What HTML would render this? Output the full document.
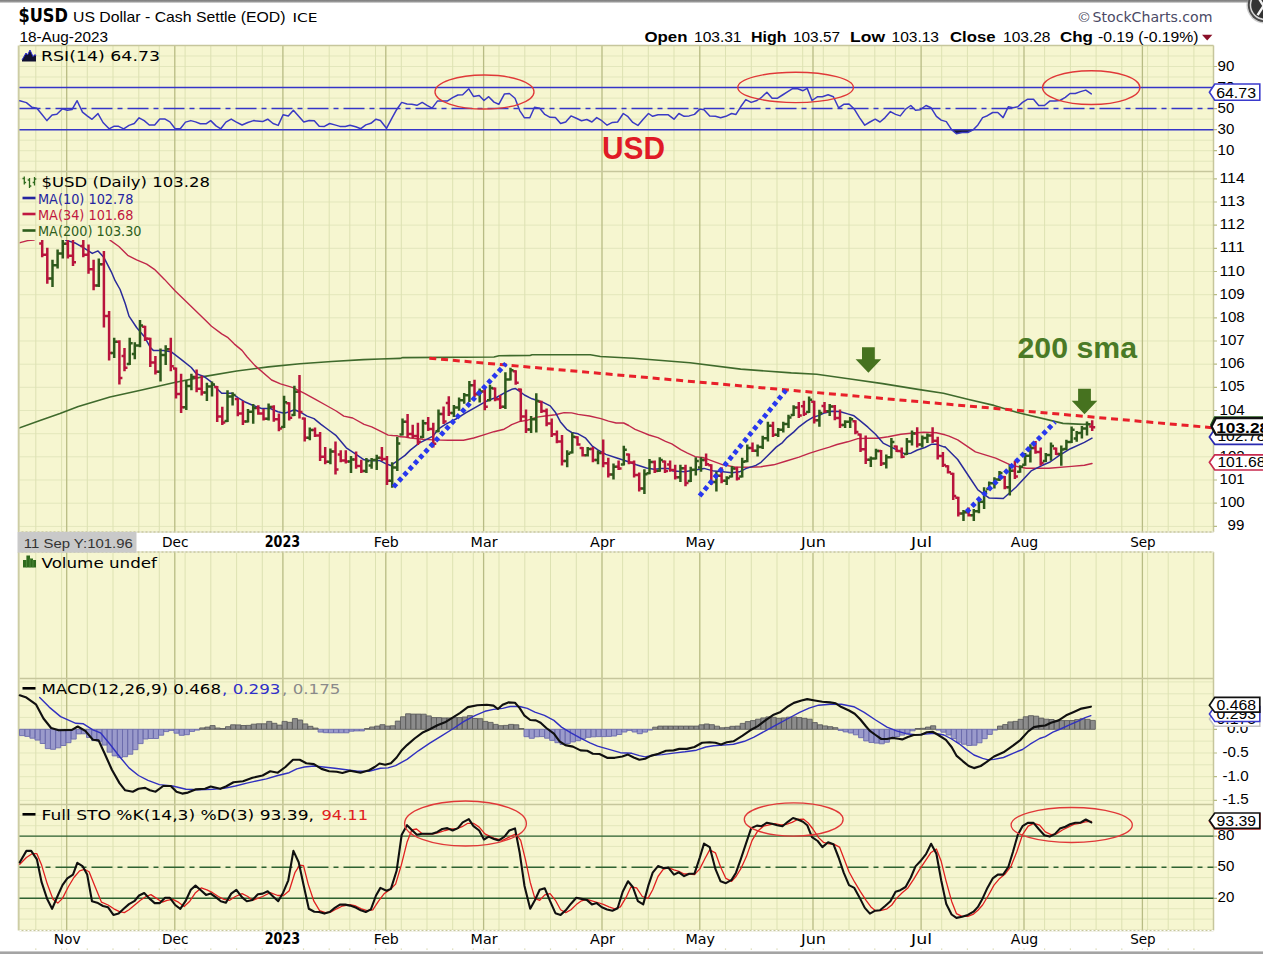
<!DOCTYPE html>
<html lang="en"><head><meta charset="utf-8"><title>$USD US Dollar - StockCharts.com</title>
<style>html,body{margin:0;padding:0;background:#fff;}body{width:1263px;height:954px;overflow:hidden;}svg{display:block;}</style></head>
<body>
<svg width="1263" height="954" viewBox="0 0 1263 954">
<defs><linearGradient id="tg" x1="0" y1="0" x2="0" y2="1"><stop offset="0" stop-color="#7a7a7a"/><stop offset="0.6" stop-color="#9a9a9a"/><stop offset="1" stop-color="#d8d8d8"/></linearGradient>
<clipPath id="cpP"><rect x="19.5" y="240" width="1194.0" height="292.0"/></clipPath>
</defs>
<rect width="1263" height="954" fill="#fff"/>
<rect width="1263" height="2.9" fill="url(#tg)"/>
<rect y="951.2" width="1263" height="2.8" fill="#bcbcbc"/><rect y="952.2" width="1263" height="1.6" fill="#9e9e9e"/>
<rect x="19.5" y="45.5" width="1194.0" height="126.0" fill="#f6f6d0"/>
<rect x="19.5" y="171.5" width="1194.0" height="360.5" fill="#f6f6d0"/>
<rect x="19.5" y="552.0" width="1194.0" height="126.5" fill="#f6f6d0"/>
<rect x="19.5" y="678.5" width="1194.0" height="126.0" fill="#f6f6d0"/>
<rect x="19.5" y="804.5" width="1194.0" height="126.0" fill="#f6f6d0"/>
<path d="M19.5 161.2H1213.5M19.5 150.7H1213.5M19.5 140.2H1213.5M19.5 129.7H1213.5M19.5 119.1H1213.5M19.5 108.6H1213.5M19.5 98.1H1213.5M19.5 87.5H1213.5M19.5 77H1213.5M19.5 66.5H1213.5M19.5 56H1213.5" stroke="#e3e7bc" stroke-width="1" fill="none"/>
<path d="M35.8 45.5V171.5M61.6 45.5V171.5M87.3 45.5V171.5M113 45.5V171.5M138.8 45.5V171.5M159.3 45.5V171.5M185.1 45.5V171.5M210.8 45.5V171.5M236.6 45.5V171.5M262.3 45.5V171.5M303.5 45.5V171.5M329.2 45.5V171.5M349.8 45.5V171.5M375.5 45.5V171.5M401.3 45.5V171.5M427 45.5V171.5M452.7 45.5V171.5M473.3 45.5V171.5M499 45.5V171.5M524.8 45.5V171.5M550.5 45.5V171.5M576.3 45.5V171.5M622.6 45.5V171.5M648.3 45.5V171.5M674 45.5V171.5M725.5 45.5V171.5M751.3 45.5V171.5M777 45.5V171.5M802.7 45.5V171.5M823.3 45.5V171.5M849 45.5V171.5M874.8 45.5V171.5M895.4 45.5V171.5M941.7 45.5V171.5M967.4 45.5V171.5M993.2 45.5V171.5M1018.9 45.5V171.5M1044.6 45.5V171.5M1070.4 45.5V171.5M1096.1 45.5V171.5M1121.8 45.5V171.5M1147.6 45.5V171.5M1168.2 45.5V171.5M1193.9 45.5V171.5" stroke="#dde2b2" stroke-width="1" fill="none"/>
<path d="M66.7 45.5V171.5M174.8 45.5V171.5M282.9 45.5V171.5M385.8 45.5V171.5M483.6 45.5V171.5M602 45.5V171.5M699.8 45.5V171.5M813 45.5V171.5M921.1 45.5V171.5M1024 45.5V171.5M1142.4 45.5V171.5" stroke="#b8bc84" stroke-width="1.3" fill="none"/>
<path d="M19.5 526.4H1213.5M19.5 503.2H1213.5M19.5 480H1213.5M19.5 456.8H1213.5M19.5 433.7H1213.5M19.5 410.5H1213.5M19.5 387.3H1213.5M19.5 364.2H1213.5M19.5 341H1213.5M19.5 317.8H1213.5M19.5 294.7H1213.5M19.5 271.5H1213.5M19.5 248.3H1213.5M19.5 225.1H1213.5M19.5 202H1213.5M19.5 178.8H1213.5" stroke="#e3e7bc" stroke-width="1" fill="none"/>
<path d="M35.8 171.5V532.0M61.6 171.5V532.0M87.3 171.5V532.0M113 171.5V532.0M138.8 171.5V532.0M159.3 171.5V532.0M185.1 171.5V532.0M210.8 171.5V532.0M236.6 171.5V532.0M262.3 171.5V532.0M303.5 171.5V532.0M329.2 171.5V532.0M349.8 171.5V532.0M375.5 171.5V532.0M401.3 171.5V532.0M427 171.5V532.0M452.7 171.5V532.0M473.3 171.5V532.0M499 171.5V532.0M524.8 171.5V532.0M550.5 171.5V532.0M576.3 171.5V532.0M622.6 171.5V532.0M648.3 171.5V532.0M674 171.5V532.0M725.5 171.5V532.0M751.3 171.5V532.0M777 171.5V532.0M802.7 171.5V532.0M823.3 171.5V532.0M849 171.5V532.0M874.8 171.5V532.0M895.4 171.5V532.0M941.7 171.5V532.0M967.4 171.5V532.0M993.2 171.5V532.0M1018.9 171.5V532.0M1044.6 171.5V532.0M1070.4 171.5V532.0M1096.1 171.5V532.0M1121.8 171.5V532.0M1147.6 171.5V532.0M1168.2 171.5V532.0M1193.9 171.5V532.0" stroke="#dde2b2" stroke-width="1" fill="none"/>
<path d="M66.7 171.5V532.0M174.8 171.5V532.0M282.9 171.5V532.0M385.8 171.5V532.0M483.6 171.5V532.0M602 171.5V532.0M699.8 171.5V532.0M813 171.5V532.0M921.1 171.5V532.0M1024 171.5V532.0M1142.4 171.5V532.0" stroke="#b8bc84" stroke-width="1.3" fill="none"/>
<path d="M35.8 552.0V678.5M61.6 552.0V678.5M87.3 552.0V678.5M113 552.0V678.5M138.8 552.0V678.5M159.3 552.0V678.5M185.1 552.0V678.5M210.8 552.0V678.5M236.6 552.0V678.5M262.3 552.0V678.5M303.5 552.0V678.5M329.2 552.0V678.5M349.8 552.0V678.5M375.5 552.0V678.5M401.3 552.0V678.5M427 552.0V678.5M452.7 552.0V678.5M473.3 552.0V678.5M499 552.0V678.5M524.8 552.0V678.5M550.5 552.0V678.5M576.3 552.0V678.5M622.6 552.0V678.5M648.3 552.0V678.5M674 552.0V678.5M725.5 552.0V678.5M751.3 552.0V678.5M777 552.0V678.5M802.7 552.0V678.5M823.3 552.0V678.5M849 552.0V678.5M874.8 552.0V678.5M895.4 552.0V678.5M941.7 552.0V678.5M967.4 552.0V678.5M993.2 552.0V678.5M1018.9 552.0V678.5M1044.6 552.0V678.5M1070.4 552.0V678.5M1096.1 552.0V678.5M1121.8 552.0V678.5M1147.6 552.0V678.5M1168.2 552.0V678.5M1193.9 552.0V678.5" stroke="#dde2b2" stroke-width="1" fill="none"/>
<path d="M66.7 552.0V678.5M174.8 552.0V678.5M282.9 552.0V678.5M385.8 552.0V678.5M483.6 552.0V678.5M602 552.0V678.5M699.8 552.0V678.5M813 552.0V678.5M921.1 552.0V678.5M1024 552.0V678.5M1142.4 552.0V678.5" stroke="#b8bc84" stroke-width="1.3" fill="none"/>
<path d="M19.5 800.4H1213.5M19.5 788.5H1213.5M19.5 776.7H1213.5M19.5 764.8H1213.5M19.5 753H1213.5M19.5 741.1H1213.5M19.5 729.3H1213.5M19.5 717.4H1213.5M19.5 705.6H1213.5M19.5 693.8H1213.5M19.5 681.9H1213.5" stroke="#e3e7bc" stroke-width="1" fill="none"/>
<path d="M35.8 678.5V804.5M61.6 678.5V804.5M87.3 678.5V804.5M113 678.5V804.5M138.8 678.5V804.5M159.3 678.5V804.5M185.1 678.5V804.5M210.8 678.5V804.5M236.6 678.5V804.5M262.3 678.5V804.5M303.5 678.5V804.5M329.2 678.5V804.5M349.8 678.5V804.5M375.5 678.5V804.5M401.3 678.5V804.5M427 678.5V804.5M452.7 678.5V804.5M473.3 678.5V804.5M499 678.5V804.5M524.8 678.5V804.5M550.5 678.5V804.5M576.3 678.5V804.5M622.6 678.5V804.5M648.3 678.5V804.5M674 678.5V804.5M725.5 678.5V804.5M751.3 678.5V804.5M777 678.5V804.5M802.7 678.5V804.5M823.3 678.5V804.5M849 678.5V804.5M874.8 678.5V804.5M895.4 678.5V804.5M941.7 678.5V804.5M967.4 678.5V804.5M993.2 678.5V804.5M1018.9 678.5V804.5M1044.6 678.5V804.5M1070.4 678.5V804.5M1096.1 678.5V804.5M1121.8 678.5V804.5M1147.6 678.5V804.5M1168.2 678.5V804.5M1193.9 678.5V804.5" stroke="#dde2b2" stroke-width="1" fill="none"/>
<path d="M66.7 678.5V804.5M174.8 678.5V804.5M282.9 678.5V804.5M385.8 678.5V804.5M483.6 678.5V804.5M602 678.5V804.5M699.8 678.5V804.5M813 678.5V804.5M921.1 678.5V804.5M1024 678.5V804.5M1142.4 678.5V804.5" stroke="#b8bc84" stroke-width="1.3" fill="none"/>
<path d="M19.5 919.1H1213.5M19.5 908.7H1213.5M19.5 898.3H1213.5M19.5 888H1213.5M19.5 877.6H1213.5M19.5 867.2H1213.5M19.5 856.8H1213.5M19.5 846.4H1213.5M19.5 836.1H1213.5M19.5 825.7H1213.5M19.5 815.3H1213.5" stroke="#e3e7bc" stroke-width="1" fill="none"/>
<path d="M35.8 804.5V930.5M61.6 804.5V930.5M87.3 804.5V930.5M113 804.5V930.5M138.8 804.5V930.5M159.3 804.5V930.5M185.1 804.5V930.5M210.8 804.5V930.5M236.6 804.5V930.5M262.3 804.5V930.5M303.5 804.5V930.5M329.2 804.5V930.5M349.8 804.5V930.5M375.5 804.5V930.5M401.3 804.5V930.5M427 804.5V930.5M452.7 804.5V930.5M473.3 804.5V930.5M499 804.5V930.5M524.8 804.5V930.5M550.5 804.5V930.5M576.3 804.5V930.5M622.6 804.5V930.5M648.3 804.5V930.5M674 804.5V930.5M725.5 804.5V930.5M751.3 804.5V930.5M777 804.5V930.5M802.7 804.5V930.5M823.3 804.5V930.5M849 804.5V930.5M874.8 804.5V930.5M895.4 804.5V930.5M941.7 804.5V930.5M967.4 804.5V930.5M993.2 804.5V930.5M1018.9 804.5V930.5M1044.6 804.5V930.5M1070.4 804.5V930.5M1096.1 804.5V930.5M1121.8 804.5V930.5M1147.6 804.5V930.5M1168.2 804.5V930.5M1193.9 804.5V930.5" stroke="#dde2b2" stroke-width="1" fill="none"/>
<path d="M66.7 804.5V930.5M174.8 804.5V930.5M282.9 804.5V930.5M385.8 804.5V930.5M483.6 804.5V930.5M602 804.5V930.5M699.8 804.5V930.5M813 804.5V930.5M921.1 804.5V930.5M1024 804.5V930.5M1142.4 804.5V930.5" stroke="#b8bc84" stroke-width="1.3" fill="none"/>
<path d="M19.5 45.5H1213.5M19.5 171.5H1213.5M19.5 532.0H1213.5M19.5 552.0H1213.5M19.5 678.5H1213.5M19.5 804.5H1213.5M19.5 930.5H1213.5M1213.5 45.5V532.0M1213.5 552.0V930.5" stroke="#c6c69c" stroke-width="1.5" fill="none"/>
<path d="M18.7 45.5V532.0M18.7 552.0V930.5" stroke="#cdcda4" stroke-width="2" fill="none"/>
<path d="M19.5 532.0H1213.5" stroke="#fff" stroke-width="1.2" stroke-dasharray="2 2" fill="none"/>
<path d="M19.5 552.0H1213.5" stroke="#fff" stroke-width="1.2" stroke-dasharray="2 2" fill="none"/>
<path d="M19.5 930.5H1213.5" stroke="#fff" stroke-width="1.2" stroke-dasharray="2 2" fill="none"/>
<path d="M19.5 950.5H1213.5" stroke="#fff" stroke-width="1.2" stroke-dasharray="2 2" fill="none"/>
<path d="M35.8 948.6v1.2M61.6 948.6v1.2M87.3 948.6v1.2M113 948.6v1.2M138.8 948.6v1.2M159.3 948.6v1.2M185.1 948.6v1.2M210.8 948.6v1.2M236.6 948.6v1.2M262.3 948.6v1.2M303.5 948.6v1.2M329.2 948.6v1.2M349.8 948.6v1.2M375.5 948.6v1.2M401.3 948.6v1.2M427 948.6v1.2M452.7 948.6v1.2M473.3 948.6v1.2M499 948.6v1.2M524.8 948.6v1.2M550.5 948.6v1.2M576.3 948.6v1.2M622.6 948.6v1.2M648.3 948.6v1.2M674 948.6v1.2M725.5 948.6v1.2M751.3 948.6v1.2M777 948.6v1.2M802.7 948.6v1.2M823.3 948.6v1.2M849 948.6v1.2M874.8 948.6v1.2M895.4 948.6v1.2M941.7 948.6v1.2M967.4 948.6v1.2M993.2 948.6v1.2M1018.9 948.6v1.2M1044.6 948.6v1.2M1070.4 948.6v1.2M1096.1 948.6v1.2M1121.8 948.6v1.2M1147.6 948.6v1.2M1168.2 948.6v1.2M1193.9 948.6v1.2M66.7 948.6v1.2M174.8 948.6v1.2M282.9 948.6v1.2M385.8 948.6v1.2M483.6 948.6v1.2M602 948.6v1.2M699.8 948.6v1.2M813 948.6v1.2M921.1 948.6v1.2M1024 948.6v1.2M1142.4 948.6v1.2" stroke="#d4d4a8" stroke-width="1.2" fill="none"/>
<text x="1217.5" y="70.5" font-family="Liberation Sans, Arial, sans-serif" font-size="14" fill="#000" textLength="16.8" lengthAdjust="spacingAndGlyphs">90</text>
<text x="1217.5" y="91.5" font-family="Liberation Sans, Arial, sans-serif" font-size="14" fill="#000" textLength="16.8" lengthAdjust="spacingAndGlyphs">70</text>
<text x="1217.5" y="112.6" font-family="Liberation Sans, Arial, sans-serif" font-size="14" fill="#000" textLength="16.8" lengthAdjust="spacingAndGlyphs">50</text>
<text x="1217.5" y="133.7" font-family="Liberation Sans, Arial, sans-serif" font-size="14" fill="#000" textLength="16.8" lengthAdjust="spacingAndGlyphs">30</text>
<text x="1217.5" y="154.7" font-family="Liberation Sans, Arial, sans-serif" font-size="14" fill="#000" textLength="16.8" lengthAdjust="spacingAndGlyphs">10</text>
<text x="1227.5" y="530.4" font-family="Liberation Sans, Arial, sans-serif" font-size="14" fill="#000" textLength="16.8" lengthAdjust="spacingAndGlyphs">99</text>
<text x="1219.5" y="507.2" font-family="Liberation Sans, Arial, sans-serif" font-size="14" fill="#000" textLength="25.2" lengthAdjust="spacingAndGlyphs">100</text>
<text x="1219.5" y="484" font-family="Liberation Sans, Arial, sans-serif" font-size="14" fill="#000" textLength="25.2" lengthAdjust="spacingAndGlyphs">101</text>
<text x="1219.5" y="460.8" font-family="Liberation Sans, Arial, sans-serif" font-size="14" fill="#000" textLength="25.2" lengthAdjust="spacingAndGlyphs">102</text>
<text x="1219.5" y="437.7" font-family="Liberation Sans, Arial, sans-serif" font-size="14" fill="#000" textLength="25.2" lengthAdjust="spacingAndGlyphs">103</text>
<text x="1219.5" y="414.5" font-family="Liberation Sans, Arial, sans-serif" font-size="14" fill="#000" textLength="25.2" lengthAdjust="spacingAndGlyphs">104</text>
<text x="1219.5" y="391.3" font-family="Liberation Sans, Arial, sans-serif" font-size="14" fill="#000" textLength="25.2" lengthAdjust="spacingAndGlyphs">105</text>
<text x="1219.5" y="368.2" font-family="Liberation Sans, Arial, sans-serif" font-size="14" fill="#000" textLength="25.2" lengthAdjust="spacingAndGlyphs">106</text>
<text x="1219.5" y="345" font-family="Liberation Sans, Arial, sans-serif" font-size="14" fill="#000" textLength="25.2" lengthAdjust="spacingAndGlyphs">107</text>
<text x="1219.5" y="321.8" font-family="Liberation Sans, Arial, sans-serif" font-size="14" fill="#000" textLength="25.2" lengthAdjust="spacingAndGlyphs">108</text>
<text x="1219.5" y="298.7" font-family="Liberation Sans, Arial, sans-serif" font-size="14" fill="#000" textLength="25.2" lengthAdjust="spacingAndGlyphs">109</text>
<text x="1219.5" y="275.5" font-family="Liberation Sans, Arial, sans-serif" font-size="14" fill="#000" textLength="25.2" lengthAdjust="spacingAndGlyphs">110</text>
<text x="1219.5" y="252.3" font-family="Liberation Sans, Arial, sans-serif" font-size="14" fill="#000" textLength="25.2" lengthAdjust="spacingAndGlyphs">111</text>
<text x="1219.5" y="229.1" font-family="Liberation Sans, Arial, sans-serif" font-size="14" fill="#000" textLength="25.2" lengthAdjust="spacingAndGlyphs">112</text>
<text x="1219.5" y="206" font-family="Liberation Sans, Arial, sans-serif" font-size="14" fill="#000" textLength="25.2" lengthAdjust="spacingAndGlyphs">113</text>
<text x="1219.5" y="182.8" font-family="Liberation Sans, Arial, sans-serif" font-size="14" fill="#000" textLength="25.2" lengthAdjust="spacingAndGlyphs">114</text>
<text x="1227" y="733.3" font-family="Liberation Sans, Arial, sans-serif" font-size="14" fill="#000" textLength="21.2" lengthAdjust="spacingAndGlyphs">0.0</text>
<text x="1222.5" y="757" font-family="Liberation Sans, Arial, sans-serif" font-size="14" fill="#000" textLength="26.1" lengthAdjust="spacingAndGlyphs">-0.5</text>
<text x="1222.5" y="780.7" font-family="Liberation Sans, Arial, sans-serif" font-size="14" fill="#000" textLength="26.1" lengthAdjust="spacingAndGlyphs">-1.0</text>
<text x="1222.5" y="804.4" font-family="Liberation Sans, Arial, sans-serif" font-size="14" fill="#000" textLength="26.1" lengthAdjust="spacingAndGlyphs">-1.5</text>
<text x="1217.5" y="840.1" font-family="Liberation Sans, Arial, sans-serif" font-size="14" fill="#000" textLength="16.8" lengthAdjust="spacingAndGlyphs">80</text>
<text x="1217.5" y="871.2" font-family="Liberation Sans, Arial, sans-serif" font-size="14" fill="#000" textLength="16.8" lengthAdjust="spacingAndGlyphs">50</text>
<text x="1217.5" y="902.3" font-family="Liberation Sans, Arial, sans-serif" font-size="14" fill="#000" textLength="16.8" lengthAdjust="spacingAndGlyphs">20</text>
<path d="M1213.5 66.5h3.5M1213.5 87.5h3.5M1213.5 108.6h3.5M1213.5 129.7h3.5M1213.5 150.7h3.5M1213.5 526.4h3.5M1213.5 503.2h3.5M1213.5 480h3.5M1213.5 456.8h3.5M1213.5 433.7h3.5M1213.5 410.5h3.5M1213.5 387.3h3.5M1213.5 364.2h3.5M1213.5 341h3.5M1213.5 317.8h3.5M1213.5 294.7h3.5M1213.5 271.5h3.5M1213.5 248.3h3.5M1213.5 225.1h3.5M1213.5 202h3.5M1213.5 178.8h3.5M1213.5 729.3h3.5M1213.5 753h3.5M1213.5 776.7h3.5M1213.5 800.4h3.5M1213.5 836.1h3.5M1213.5 867.2h3.5M1213.5 898.3h3.5" stroke="#b8bc84" stroke-width="1.2" fill="none"/>
<path d="M19.5 87.5H1213.5M19.5 129.7H1213.5" stroke="#3535c8" stroke-width="1.5" fill="none"/>
<path d="M19.5 108.6H1213.5" stroke="#3535c8" stroke-width="1.5" stroke-dasharray="21 5 5 5" fill="none"/>
<path d="M952 130.2L956.5 133.8L962 132.5L968 132.5L973.5 130.2Z" fill="#151540"/>
<path d="M19.8 100.7L26.4 102.6L32.1 107.3L36.9 108.3L41.6 114L46.9 120.6L52.1 114.9L56.8 114.3L62.5 108.8L67.3 110.2L72 109.6L77.1 100.7L82.5 112.1L87.2 115.9L92 119.3L98 113.6L103 122.5L109.1 128.8L113.8 126.3L118.6 126.3L123.7 128.8L129 125.4L134.3 123.5L139.1 117.8L144.2 120.6L149.3 125L154.7 125L159.8 119.1L165.1 119.1L169.9 121.9L175.2 128.8L180.3 128.8L185.5 122.1L190.8 120.6L195.5 121.9L200.3 123.8L206 123.8L210.7 120.6L216 125.9L220.8 128.8L225.9 122.1L231.2 119.1L236.4 122.1L242.1 125L247.8 122.5L253.5 120.6L262.6 121.6L267.7 119.2L273.1 123.5L278.2 125.4L283.1 114.8L288.3 115.9L293.4 110.2L298.7 116.3L303.8 122L309.2 120.5L314.3 120.7L319.2 126.2L324.4 126.4L329.7 123.5L334.8 124.9L339.9 126.4L345.3 126.4L350 125.2L355.7 126.8L360.8 128.7L365.8 124.9L370.9 123.3L376 119.2L380.4 120.5L386.5 128.3L391.4 119.2L396.6 109.7L401.7 102.4L407 104L411.8 104.3L416.9 105.3L422.2 102.4L427 105.3L432.1 108.1L437.4 101.1L442.2 101.1L447.3 101.1L452.6 97.7L457.9 95L462.7 94.8L468.8 88.8L473.5 96.4L479.2 95.4L484 100.5L488.7 96.7L494 102.1L498.8 104.3L504.5 93.9L509.3 93.5L515 98.3L519.7 110.6L524.5 117.8L529.8 117.8L534.5 107.2L539.7 108.3L544.8 114.4L550.1 117.3L555.4 117.6L560.6 123.5L565.7 122L571 115.9L576.3 118.2L581.5 120.7L586.8 119.5L591.9 122L596.7 117.6L601.8 120.7L607.1 125.2L612.4 122.4L617.6 122L623.3 113.5L628 116.7L632.8 122.4L637.9 125.4L643.2 119.2L648.5 113.5L652.7 116.3L658 114.8L663.2 114.8L668.3 114.8L674 119.2L678.9 113.5L684.1 116.3L689.2 115.9L694.5 114.4L699.8 109.1L704 109.7L709.7 115.9L715.4 116.3L720.6 117.8L725.9 116.3L731.6 113.5L736 114.4L740.7 106.8L745.8 99.6L751.2 102.4L756.9 100.5L761.6 97.3L766.9 92.2L772.1 98.3L777.2 98.3L782.5 95L787.8 91.6L793 88.4L797.7 88.8L803 90.7L807.2 88.4L812 100.5L817.7 96.7L822.4 96.7L828.1 94.8L833.4 96.7L838.6 107.8L843.7 104.3L849 104L854.3 109.1L859.5 117.6L864.8 125.2L869.9 122L875.2 119.2L880 122L885.1 117.6L890.4 111.6L895.6 114.4L900.3 115.9L905.6 109.1L910.8 105.5L915.5 110.2L920.3 109.7L926 105.5L931.1 107.8L936.4 116.3L941.2 120.1L946.3 121.6L951.6 129.6L956.4 133.8L962.1 132.5L967.8 132.5L973.5 129.6L977.9 124.9L982.6 117.6L987.4 115.7L992.7 112.5L997.8 112.5L1003.1 117.6L1008.3 106.8L1013 107.8L1017.8 106.8L1022.5 102.4L1027.8 99.2L1033.5 99.2L1038.7 105.5L1044.4 105.5L1049.7 101.1L1054.8 101.1L1059.9 100.5L1065.3 97.3L1070 93.5L1075.3 93.5L1080.5 91.6L1085.8 90.1L1091.3 93.9" stroke="#3a3ac4" stroke-width="1.5" fill="none" stroke-linejoin="round" stroke-linecap="round" />
<g clip-path="url(#cpP)">
<path d="M19 428L40 420.5L60 413.5L78.3 406.5L95 401.5L110 397L141.7 390L173.4 382.8L205 376.4L236.7 371L268.4 366.9L300 363.8L331.7 361.5L363.4 359.6L380 359L400 358.4L402.8 357.6L494 357L499 355.7L530 355.5L532 354.7L590.3 354.7L600.4 356.5L633.4 358.2L658.7 360.3L690 362.8L740.7 369.1L791.3 372.9L816.7 374.2L852.1 379.3L882.6 383.6L918 389.4L943.4 393.2L968.7 399.5L994 405.4L1017.4 412.5L1063 423.4L1083.2 424.4L1091 424" stroke="#3f6a2c" stroke-width="1.6" fill="none" stroke-linejoin="round" stroke-linecap="round" />
<path d="M110 240.1L118.9 246.5L127.7 255.3L136.6 259.8L146.7 264.2L154.4 269.3L164.5 279.4L175 290.8L205.2 320L211.5 326.3L221.7 333.9L228 337.7L234.4 344.1L242 350.4L247 356.7L255 365.6L271.6 380L280.5 383.8L293.1 387.6L304.5 393.3L315.9 399.6L327.3 406L336.2 411L343.8 416.1L352.7 418L364.1 424.3L371.7 426.9L379.3 430.7L388.2 435.1L392.6 435.5L397 435.7L400.2 436.8L405 437L410.3 438L423 439.3L433.1 439.9L448.3 440.2L463.5 440.2L473.7 438L483.8 434.9L493.9 431.7L504.1 429.2L511.7 424.7L519.3 421.6L526.9 420.3L537 417.1L545.1 416L555.3 414.8L564.1 412.6L571.7 412.9L578.1 414.4L589.5 416L600.9 418.6L608.5 421.1L616.1 423L623.7 423L628.7 425.5L635.1 429.3L641.4 431.9L649 435L657.9 437.6L665.5 441.4L671.8 443.9L680.7 449.6L687 452.8L695.1 456.6L704 457.8L714.1 461.6L723 464.8L735.7 467.1L748.3 467.3L761 466.7L773.7 464.8L786.3 461L799 457.2L809.1 453.4L819.3 450.2L829.4 447.1L837 444.5L847.7 441.8L857.8 438.6L867.9 438.3L878.1 438.3L888.2 436.7L900.9 434.2L911 433.2L923.7 432.3L936.3 432.7L945 434.8L949 436.1L957.7 439.8L975.4 451.9L995.7 458.2L1010.9 465.2L1026.1 468.3L1048.9 468.3L1071.7 466.4L1084.4 465.2L1092 463.5" stroke="#c0284a" stroke-width="1.4" fill="none" stroke-linejoin="round" stroke-linecap="round" />
<path d="M20.1 242.7L27.7 240.6L34 240.1" stroke="#c0284a" stroke-width="1.4" fill="none" stroke-linejoin="round" stroke-linecap="round" />
<path d="M65.7 240.1L75.8 243.3L83.4 247.7L92.3 253.4L98 250.9L103.7 257.2L111.3 271.8L115.1 280.7L120.1 289.5L125.2 303.5L129 316.1L136.6 327.5L144.2 336.4L150.6 347.8L153.3 350.4L163.4 350.4L171 351.7L181.1 359.3L191.3 367.5L196.3 373.8L203.9 376.4L211.5 382.1L216.6 388.4L221.7 393.2L231.8 393.2L238.2 397.9L244.5 401.7L252.6 405.3L261.5 408.5L270.3 408.5L277.9 411.7L284.3 413.2L289.3 411.7L294.4 409.8L300.7 412.3L307.1 416.1L314 418.6L321 424.3L328.6 430L336.2 435.7L342.5 443.3L346.3 447.8L353.9 452.8L364.1 459.8L371.7 460.8L379.3 460.4L385.6 463.6L390.7 465.5L397 461.1L405 455.4L410.3 450.1L419.2 443.1L428.1 438.7L433.1 436.1L438.2 429.2L445.8 424.1L455.9 419L466.1 412.7L473.7 408.3L483.8 402.6L488.9 400L496.5 397.5L505.3 392.4L511.7 389.3L515.5 388.6L519.3 391.2L524.4 395L532 398.8L539.6 401.3L542.6 402.1L550.2 405.9L555.3 412.2L560.3 421.7L566.7 429.3L571.7 432.5L578.1 433.8L585.7 438.2L592 445.8L598.3 450.2L605.9 454.4L616.1 457.8L626.2 461L636.3 464.8L646.5 468L654.1 469.2L661.7 468.4L668 468.4L673.1 471.1L684.5 471.8L695.1 470.1L704 468.4L714.1 471.1L723 471.8L731.9 472.7L739.5 471.8L745.8 468.6L755.9 465.4L761 462.3L768.6 454.7L776.2 447.1L782.5 442.6L786.3 438.2L793.9 431.9L799 426.8L806.6 421.1L812.9 417.3L819.3 415.4L824.4 412.9L832 411.3L839.6 411.6L841.3 412L847.7 413.9L854 415.8L860.3 420.9L867.9 427.2L875.5 434.2L883.1 443.1L890.7 446.9L898.3 450.7L904.7 453.8L911 453.2L917.3 450L924.9 447.5L931.3 444.3L936.3 444.3L943.9 446.9L945 446.8L957.7 459.5L970.3 478.5L977.9 489.9L989.3 498.1L1003.3 498.5L1015.9 487.3L1031.1 470.9L1041.3 465.8L1050.1 462L1059 455.7L1070.4 448.7L1084.4 442.4L1092 438.2" stroke="#2a2a9a" stroke-width="1.5" fill="none" stroke-linejoin="round" stroke-linecap="round" />
<path d="M42.2 240.1V257.2M39.2 243.6H42.2M42.2 254.7H45.2M47.3 247.7V283.8M44.3 254.7H47.3M47.3 278.4H50.3M67.9 240.1V258.5M64.9 243.8H67.9M67.9 255.7H70.9M73 240.1V266.1M70 255.7H73M73 262.2H76M83.3 240.1V257.2M80.3 246.1H83.3M83.3 254.7H86.3M88.5 244.6V273.7M85.5 254.7H88.5M88.5 269.3H91.5M93.6 259.8V290.2M90.6 269.3H93.6M93.6 285.6H96.6M103.9 250.9V327.5M100.9 264.2H103.9M103.9 316H106.9M109.1 311.1V360.5M106.1 316H109.1M109.1 353.1H112.1M119.4 340.3V384.6M116.4 341.8H119.4M119.4 378H122.4M124.5 347.9V371.3M121.5 356.1H124.5M124.5 367.8H127.5M145.1 325.7V340.9M142.1 326.7H145.1M145.1 338.6H148.1M150.3 337.7V366.9M147.3 338.7H150.3M150.3 362.5H153.3M155.4 356.1V374.5M152.4 362.5H155.4M155.4 371.7H158.4M170.8 337.7V371.3M167.8 349.3H170.8M170.8 366.3H173.8M176 367.5V398.5M173 368.5H176M176 393.9H179M181.1 373.8V413.1M178.1 393.9H181.1M181.1 407.2H184.1M196.6 369.4V392.2M193.6 377.1H196.6M196.6 388.8H199.6M201.7 375.7V395.4M198.7 388.8H201.7M201.7 392.4H204.7M217.2 385.9V422M214.2 386.9H217.2M217.2 416.6H220.2M222.3 406.8V425.1M219.3 416.6H222.3M222.3 422.4H225.3M237.8 397.9V416.3M234.8 398.9H237.8M237.8 413.5H240.8M242.9 401.1V425.1M239.9 413.5H242.9M242.9 421.5H245.9M258.3 405.3V414.8M255.3 408H258.3M258.3 413.4H261.3M263.5 409.1V420.5M260.5 413.4H263.5M263.5 418.8H266.5M273.8 405.3V421.8M270.8 406.9H273.8M273.8 419.3H276.8M278.9 413.6V431.3M275.9 419.3H278.9M278.9 428.6H281.9M289.2 402.2V420.5M286.2 403.2H289.2M289.2 417.8H292.2M299.5 374.9V418.6M296.5 391.8H299.5M299.5 412.1H302.5M304.7 417.4V441.4M301.7 418.4H304.7M304.7 437.8H307.7M315 427.5V437M312 430H315M315 435.6H318M320.1 431.9V461.1M317.1 435.6H320.1M320.1 456.7H323.1M325.2 447.1V464.2M322.2 456.7H325.2M325.2 461.7H328.2M335.5 441.4V474.4M332.5 451.6H335.5M335.5 469.4H338.5M340.7 450.3V462.3M337.7 454.5H340.7M340.7 460.5H343.7M345.8 450.3V463.6M342.8 460.5H345.8M345.8 461.6H348.8M356.1 451.6V468.7M353.1 459.4H356.1M356.1 466.1H359.1M361.3 459.8V473.1M358.3 466.1H361.3M361.3 471.1H364.3M381.9 447.1V461.1M378.9 457.8H381.9M381.9 459H384.9M387 456V485.1M384 459H387M387 480.8H390M407.6 414V437.4M404.6 421.8H407.6M407.6 433.9H410.6M412.7 424.7V438M409.7 433.9H412.7M412.7 436H415.7M417.9 422.8V445M414.9 436H417.9M417.9 441.7H420.9M428.2 417.1V431.1M425.2 423.3H428.2M428.2 429H431.2M433.3 422.8V447.5M430.3 429H433.3M433.3 443.8H436.3M443.6 406.4V424.1M440.6 414.1H443.6M443.6 421.4H446.6M448.8 396.2V415.9M445.8 403.1H448.8M448.8 412.9H451.8M474.5 379.8V396.9M471.5 385.2H474.5M474.5 394.3H477.5M484.8 388V410.2M481.8 391.4H484.8M484.8 406.8H487.8M495.1 387.4V401.3M492.1 388.4H495.1M495.1 399.2H498.1M500.2 395V408.9M497.2 399.2H500.2M500.2 406.8H503.2M515.7 370.3V384.8M512.7 371.3H515.7M515.7 382.7H518.7M520.8 388.6V421.6M517.8 389.6H520.8M520.8 416.6H523.8M526 409.5V433M523 416.6H526M526 429.5H529M541.4 400.8V412.9M538.4 401.8H541.4M541.4 411.1H544.4M546.6 408.4V426.2M543.6 411.1H546.6M546.6 423.5H549.6M551.7 418.6V436.9M548.7 423.5H551.7M551.7 434.2H554.7M556.9 430.6V443.3M553.9 434.2H556.9M556.9 441.4H559.9M562 435V465.4M559 441.4H562M562 460.9H565M577.5 436.3V445.8M574.5 437.3H577.5M577.5 444.4H580.5M582.6 447.1V456.6M579.6 448.1H582.6M582.6 455.2H585.6M592.9 447.1V462.3M589.9 449H592.9M592.9 460H595.9M603.2 439.5V467.3M600.2 453H603.2M603.2 463.2H606.2M608.3 457.8V477.5M605.3 463.2H608.3M608.3 474.5H611.3M618.6 460.4V469.9M615.6 466.7H618.6M618.6 468.5H621.6M628.9 453.4V464.2M625.9 454.4H628.9M628.9 462.6H631.9M634.1 460.4V477.5M631.1 462.6H634.1M634.1 474.9H637.1M639.2 472.4V491.4M636.2 474.9H639.2M639.2 488.6H642.2M654.7 460.4V473M651.7 462.1H654.7M654.7 471.1H657.7M665 460.4V473M662 461.4H665M665 471.1H668M670.1 460.4V471.8M667.1 464.4H670.1M670.1 470.1H673.1M675.2 464.8V479.4M672.2 470.1H675.2M675.2 477.2H678.2M685.5 464.8V486.3M682.5 468.2H685.5M685.5 483.1H688.5M706.1 453.4V466.1M703.1 460.1H706.1M706.1 464.2H709.1M711.3 464.2V485.1M708.3 465.2H711.3M711.3 481.9H714.3M721.6 467.3V483.2M718.6 475.7H721.6M721.6 480.8H724.6M737 466.7V480.6M734 468.4H737M737 478.6H740M752.5 442.6V452.1M749.5 448.1H752.5M752.5 450.7H755.5M773 421.7V436.9M770 425.7H773M773 434.7H776M798.8 402.1V417.9M795.8 407.4H798.8M798.8 415.6H801.8M803.9 400.8V416M800.9 406.2H803.9M803.9 413.8H806.9M814.2 400.8V423.6M811.2 401.8H814.2M814.2 420.2H817.2M824.5 402.1V412.9M821.5 405.9H824.5M824.5 411.3H827.5M834.8 405.1V420.3M831.8 406.4H834.8M834.8 418H837.8M840 409.5V427.9M837 418H840M840 425.1H843M855.4 420.3V434.2M852.4 421.3H855.4M855.4 432.1H858.4M860.5 433.6V451.9M857.5 434.6H860.5M860.5 449.2H863.5M865.7 435.5V464M862.7 449.2H865.7M865.7 459.7H868.7M881.1 450V465.9M878.1 451H881.1M881.1 463.5H884.1M896.6 445.6V451.9M893.6 446.6H896.6M896.6 451H899.6M901.7 447.5V458.3M898.7 451H901.7M901.7 456.7H904.7M917.2 427.2V447.5M914.2 433.4H917.2M917.2 444.5H920.2M932.6 427.2V443.1M929.6 435.5H932.6M932.6 440.7H935.6M937.7 436.7V459.5M934.7 440.7H937.7M937.7 456.1H940.7M942.9 451.9V467.1M939.9 456.1H942.9M942.9 464.9H945.9M948 465.2V473.4M945 466.2H948M948 472.2H951M953.2 472.8V500M950.2 473.8H953.2M953.2 495.9H956.2M958.3 496.8V516.5M955.3 497.8H958.3M958.3 513.5H961.3M968.6 507.6V516.5M965.6 512.3H968.6M968.6 515.2H971.6M1004.7 475.9V489.2M1001.7 476.9H1004.7M1004.7 487.2H1007.7M1014.9 460.7V479.1M1011.9 470.7H1014.9M1014.9 476.4H1017.9M1035.5 441.1V453.8M1032.5 447.9H1035.5M1035.5 451.9H1038.5M1040.7 447.4V465.8M1037.7 451.9H1040.7M1040.7 463.1H1043.7M1056.1 447.4V455M1053.1 448.4H1056.1M1056.1 453.9H1059.1M1092.2 420.2V431M1089.2 426.4H1092.2M1092.2 427.3H1095.2" stroke="#b8143c" stroke-width="2.5" fill="none"/>
<path d="M52.5 259.8V287M49.5 278.4H52.5M52.5 265.2H55.5M57.6 249.6V268.6M54.6 265.2H57.6M57.6 253.4H60.6M62.8 240.1V258.5M59.8 253.4H62.8M62.8 243.8H65.8M98.8 258.5V287M95.8 285.6H98.8M98.8 264.2H101.8M114.2 337.7V358M111.2 353.1H114.2M114.2 341.8H117.2M129.7 337.7V365M126.7 364H129.7M129.7 343.2H132.7M134.8 342.2V359.3M131.8 354.1H134.8M134.8 345.6H137.8M140 320V347.2M137 345.6H140M140 325.4H143M160.5 348.5V381.4M157.5 371.7H160.5M160.5 355.1H163.5M165.7 345.3V365M162.7 355.1H165.7M165.7 349.3H168.7M186.3 380.2V409.9M183.3 407.2H186.3M186.3 386.1H189.3M191.4 373.8V390.3M188.4 386.1H191.4M191.4 377.1H194.4M206.9 382.7V401.1M203.9 392.4H206.9M206.9 386.4H209.9M212 381.4V396.6M209 386.4H212M212 384.5H215M227.5 390.3V422M224.5 421H227.5M227.5 396.6H230.5M232.6 392.2V405.5M229.6 396.6H232.6M232.6 394.9H235.6M248 409.1V422.4M245 421.4H248M248 411.8H251M253.2 404.1V423.7M250.2 411.8H253.2M253.2 408H256.2M268.6 403.4V420.5M265.6 418.8H268.6M268.6 406.9H271.6M284.1 395.8V428.1M281.1 427.1H284.1M284.1 402.3H287.1M294.4 385.7V416.1M291.4 415.1H294.4M294.4 391.8H297.4M309.8 427.5V440.2M306.8 437.8H309.8M309.8 430H312.8M330.4 448.4V464.2M327.4 461.7H330.4M330.4 451.6H333.4M351 456V473.1M348 461.6H351M351 459.4H354M366.4 457.9V473.1M363.4 471.1H366.4M366.4 461H369.4M371.6 457.9V468.7M368.6 465.4H371.6M371.6 460.1H374.6M376.7 454.7V469.9M373.7 460.1H376.7M376.7 457.8H379.7M392.2 462.3V487.7M389.2 480.8H392.2M392.2 467.4H395.2M397.3 436.8V471M394.3 467.4H397.3M397.3 443.6H400.3M402.5 418.4V435.5M399.5 434.5H402.5M402.5 421.8H405.5M423 419.7V438M420 437H423M423 423.3H426M438.5 409.5V432.3M435.5 431.3H438.5M438.5 414.1H441.5M453.9 405.1V417.1M450.9 412.9H453.9M453.9 407.5H456.9M459.1 397.5V410.8M456.1 407.5H459.1M459.1 400.2H462.1M464.2 393.1V403.8M461.2 400.2H464.2M464.2 395.2H467.2M469.4 381V401.9M466.4 395.2H469.4M469.4 385.2H472.4M479.7 388.6V402.6M476.7 394.3H479.7M479.7 391.4H482.7M490 384.8V401.3M487 400.3H490M490 388.1H493M505.4 372.2V408.9M502.4 406.8H505.4M505.4 379.5H508.4M510.5 367.7V380.4M507.5 379.4H510.5M510.5 370.3H513.5M531.1 415.9V433M528.1 429.5H531.1M531.1 419.3H534.1M536.3 393.2V432.5M533.3 419.3H536.3M536.3 401.1H539.3M567.2 450.2V467.3M564.2 460.9H567.2M567.2 453.7H570.2M572.3 432.5V453.4M569.3 452.4H572.3M572.3 436.7H575.3M587.7 447.1V456.6M584.7 455.2H587.7M587.7 449H590.7M598 450.2V464.2M595 460H598M598 453H601M613.5 463.5V479.4M610.5 474.5H613.5M613.5 466.7H616.5M623.8 445.8V465.4M620.8 464.4H623.8M623.8 449.7H626.8M644.4 469.2V493.9M641.4 488.6H644.4M644.4 474.2H647.4M649.5 459.1V474.3M646.5 473.3H649.5M649.5 462.1H652.5M659.8 457.2V471.8M656.8 470.8H659.8M659.8 460.1H662.8M680.4 464.8V481.9M677.4 477.2H680.4M680.4 468.2H683.4M690.7 466.7V481.9M687.7 480.9H690.7M690.7 469.8H693.7M695.8 457.2V475.6M692.8 469.8H695.8M695.8 460.9H698.8M701 457.2V471.8M698 467.4H701M701 460.1H704M716.4 471.8V491.4M713.4 481.9H716.4M716.4 475.7H719.4M726.7 476.2V485.1M723.7 480.8H726.7M726.7 478H729.7M731.9 466.1V477.5M728.9 476.5H731.9M731.9 468.4H734.9M742.2 457.8V477.5M739.2 476.5H742.2M742.2 461.8H745.2M747.3 444.5V462.3M744.3 461.3H747.3M747.3 448.1H750.3M757.6 444.5V456.6M754.6 450.7H757.6M757.6 446.9H760.6M762.7 435.7V449M759.7 446.9H762.7M762.7 438.3H765.7M767.9 421.7V441.4M764.9 438.3H767.9M767.9 425.7H770.9M778.2 428.1V436.9M775.2 434.7H778.2M778.2 429.8H781.2M783.3 421.7V432.5M780.3 429.8H783.3M783.3 423.9H786.3M788.5 414.8V428.1M785.5 423.9H788.5M788.5 417.4H791.5M793.6 405.3V416M790.6 415H793.6M793.6 407.4H796.6M809.1 396.4V412.9M806.1 411.9H809.1M809.1 399.7H812.1M819.4 409.7V426.8M816.4 420.2H819.4M819.4 413.1H822.4M829.7 404V416M826.7 411.3H829.7M829.7 406.4H832.7M845.1 420.3V427.9M842.1 425.1H845.1M845.1 421.8H848.1M850.2 417.1V427.9M847.2 421.8H850.2M850.2 419.3H853.2M870.8 456.4V467.1M867.8 459.7H870.8M870.8 458.5H873.8M876 448.8V459.5M873 458.5H876M876 450.9H879M886.3 454.5V468.4M883.3 463.5H886.3M886.3 457.3H889.3M891.4 438V458.3M888.4 457.3H891.4M891.4 442.1H894.4M906.9 438V455.1M903.9 454.1H906.9M906.9 441.4H909.9M912 430.4V445.6M909 441.4H912M912 433.4H915M922.3 435.5V447.5M919.3 444.5H922.3M922.3 437.9H925.3M927.4 433.6V443.1M924.4 437.9H927.4M927.4 435.5H930.4M963.5 510.1V520.9M960.5 513.5H963.5M963.5 512.3H966.5M973.8 508.9V520.9M970.8 515.2H973.8M973.8 511.3H976.8M978.9 498.7V513.3M975.9 511.3H978.9M978.9 501.7H981.9M984.1 487.3V508.9M981.1 501.7H984.1M984.1 491.7H987.1M989.2 481.6V489.9M986.2 488.9H989.2M989.2 483.3H992.2M994.4 477.2V488.6M991.4 483.3H994.4M994.4 479.5H997.4M999.5 470.9V481M996.5 479.5H999.5M999.5 472.9H1002.5M1009.8 464.5V495.6M1006.8 487.2H1009.8M1009.8 470.7H1012.8M1020.1 465.2V472.8M1017.1 471.8H1020.1M1020.1 466.7H1023.1M1025.2 453.1V465.8M1022.2 464.8H1025.2M1025.2 455.7H1028.2M1030.4 444.3V462.6M1027.4 455.7H1030.4M1030.4 447.9H1033.4M1045.8 453.1V462M1042.8 461H1045.8M1045.8 454.9H1048.8M1051 442.4V460.7M1048 454.9H1051M1051 446H1054M1061.3 445.5V465.8M1058.3 453.9H1061.3M1061.3 449.6H1064.3M1066.4 439.8V450M1063.4 449H1066.4M1066.4 441.9H1069.4M1071.6 426.5V443M1068.6 441.9H1071.6M1071.6 429.8H1074.6M1076.7 431V441.7M1073.7 438.5H1076.7M1076.7 433.1H1079.7M1081.9 425.9V438.6M1078.9 433.1H1081.9M1081.9 428.4H1084.9M1087 421.5V435.4M1084 428.4H1087M1087 424.3H1090" stroke="#2e5a1c" stroke-width="2.5" fill="none"/>
</g>
<path d="M19.5 729.3V735.6h5.3V729.3ZM24.8 729.3V736.4h5.1V729.3ZM29.9 729.3V738.2h5.1V729.3ZM35 729.3V740.1h5.1V729.3ZM40.2 729.3V743.5h5.1V729.3ZM45.3 729.3V748.6h5.1V729.3ZM50.5 729.3V749.3h5.1V729.3ZM55.6 729.3V747.8h5.1V729.3ZM60.8 729.3V745.5h5.1V729.3ZM65.9 729.3V742.7h5.1V729.3ZM71.1 729.3V739.1h5.1V729.3ZM76.2 729.3V733.9h5.1V729.3ZM81.4 729.3V733.8h5.1V729.3ZM86.5 729.3V737.5h5.1V729.3ZM91.7 729.3V740.6h5.1V729.3ZM96.8 729.3V741.3h5.1V729.3ZM102 729.3V745.1h5.1V729.3ZM107.1 729.3V752.2h5.1V729.3ZM112.2 729.3V755.9h5.1V729.3ZM117.4 729.3V757.6h5.1V729.3ZM122.5 729.3V756.7h5.1V729.3ZM127.7 729.3V754.2h5.1V729.3ZM132.8 729.3V749.7h5.1V729.3ZM138 729.3V743.6h5.1V729.3ZM143.1 729.3V739h5.1V729.3ZM148.3 729.3V738.5h5.1V729.3ZM153.4 729.3V738.5h5.1V729.3ZM158.6 729.3V735.2h5.1V729.3ZM163.7 729.3V731.6h5.1V729.3ZM168.9 729.3V730.4h5.1V729.3ZM174 729.3V733.2h5.1V729.3ZM179.2 729.3V735.3h5.1V729.3ZM184.3 729.3V734.7h5.1V729.3ZM189.5 729.3V731.4h5.1V729.3ZM194.6 729.3V730.1h5.1V729.3ZM318.1 729.3V732.1h5.1V729.3ZM323.3 729.3V732.7h5.1V729.3ZM328.4 729.3V732.8h5.1V729.3ZM333.6 729.3V732.8h5.1V729.3ZM338.7 729.3V732.8h5.1V729.3ZM343.9 729.3V732.8h5.1V729.3ZM349 729.3V731.2h5.1V729.3ZM354.2 729.3V730.9h5.1V729.3ZM359.3 729.3V730.9h5.1V729.3ZM524 729.3V736.7h5.1V729.3ZM529.2 729.3V738.3h5.1V729.3ZM534.3 729.3V736.8h5.1V729.3ZM539.5 729.3V736.6h5.1V729.3ZM544.6 729.3V738.2h5.1V729.3ZM549.7 729.3V740.4h5.1V729.3ZM554.9 729.3V742.7h5.1V729.3ZM560 729.3V744.4h5.1V729.3ZM565.2 729.3V743.5h5.1V729.3ZM570.3 729.3V741.9h5.1V729.3ZM575.5 729.3V740.7h5.1V729.3ZM580.6 729.3V738.9h5.1V729.3ZM585.8 729.3V737.3h5.1V729.3ZM590.9 729.3V736.8h5.1V729.3ZM596.1 729.3V736.6h5.1V729.3ZM601.2 729.3V736.6h5.1V729.3ZM606.4 729.3V736.4h5.1V729.3ZM611.5 729.3V736h5.1V729.3ZM616.7 729.3V734.5h5.1V729.3ZM621.8 729.3V732h5.1V729.3ZM626.9 729.3V730.4h5.1V729.3ZM632.1 729.3V732h5.1V729.3ZM637.2 729.3V733.7h5.1V729.3ZM642.4 729.3V732.1h5.1V729.3ZM647.5 729.3V730.1h5.1V729.3ZM838 729.3V730.4h5.1V729.3ZM843.1 729.3V731.9h5.1V729.3ZM848.3 729.3V733h5.1V729.3ZM853.4 729.3V734.8h5.1V729.3ZM858.6 729.3V737.7h5.1V729.3ZM863.7 729.3V740.9h5.1V729.3ZM868.9 729.3V742.4h5.1V729.3ZM874 729.3V743.1h5.1V729.3ZM879.2 729.3V743.8h5.1V729.3ZM884.3 729.3V742.2h5.1V729.3ZM889.4 729.3V738.4h5.1V729.3ZM894.6 729.3V736.5h5.1V729.3ZM899.7 729.3V735.1h5.1V729.3ZM904.9 729.3V733.1h5.1V729.3ZM910 729.3V730.8h5.1V729.3ZM935.8 729.3V730.1h5.1V729.3ZM940.9 729.3V732.2h5.1V729.3ZM946.1 729.3V735h5.1V729.3ZM951.2 729.3V738.7h5.1V729.3ZM956.4 729.3V742.2h5.1V729.3ZM961.5 729.3V744.2h5.1V729.3ZM966.7 729.3V745.5h5.1V729.3ZM971.8 729.3V745.2h5.1V729.3ZM976.9 729.3V742.8h5.1V729.3ZM982.1 729.3V738.7h5.1V729.3ZM987.2 729.3V734.4h5.1V729.3ZM992.4 729.3V730.1h5.1V729.3Z" fill="#9a9acb" stroke="#6c6cad" stroke-width="0.9"/>
<path d="M199.7 729.3V727.9h5.1V729.3ZM204.9 729.3V727.1h5.1V729.3ZM210 729.3V725.6h5.1V729.3ZM215.2 729.3V728h5.1V729.3ZM220.3 729.3V728.5h5.1V729.3ZM225.5 729.3V726.7h5.1V729.3ZM230.6 729.3V724.8h5.1V729.3ZM235.8 729.3V724.9h5.1V729.3ZM240.9 729.3V725.5h5.1V729.3ZM246.1 729.3V725.4h5.1V729.3ZM251.2 729.3V724.2h5.1V729.3ZM256.4 729.3V723.8h5.1V729.3ZM261.5 729.3V723.8h5.1V729.3ZM266.7 729.3V721.4h5.1V729.3ZM271.8 729.3V723.3h5.1V729.3ZM277 729.3V725.1h5.1V729.3ZM282.1 729.3V721.4h5.1V729.3ZM287.2 729.3V722.3h5.1V729.3ZM292.4 729.3V718.6h5.1V729.3ZM297.5 729.3V720h5.1V729.3ZM302.7 729.3V723.9h5.1V729.3ZM307.8 729.3V726.3h5.1V729.3ZM313 729.3V728.1h5.1V729.3ZM364.5 729.3V728.5h5.1V729.3ZM369.6 729.3V727h5.1V729.3ZM374.7 729.3V726.1h5.1V729.3ZM379.9 729.3V724.7h5.1V729.3ZM385 729.3V726.1h5.1V729.3ZM390.2 729.3V725.8h5.1V729.3ZM395.3 729.3V721.1h5.1V729.3ZM400.5 729.3V716.8h5.1V729.3ZM405.6 729.3V713.8h5.1V729.3ZM410.8 729.3V714.1h5.1V729.3ZM415.9 729.3V714.1h5.1V729.3ZM421.1 729.3V714.2h5.1V729.3ZM426.2 729.3V715.9h5.1V729.3ZM431.4 729.3V717.6h5.1V729.3ZM436.5 729.3V717.6h5.1V729.3ZM441.7 729.3V717.9h5.1V729.3ZM446.8 729.3V717.9h5.1V729.3ZM452 729.3V717.6h5.1V729.3ZM457.1 729.3V717.5h5.1V729.3ZM462.2 729.3V717h5.1V729.3ZM467.4 729.3V715.6h5.1V729.3ZM472.5 729.3V718.5h5.1V729.3ZM477.7 729.3V718.7h5.1V729.3ZM482.8 729.3V721.4h5.1V729.3ZM488 729.3V722.4h5.1V729.3ZM493.1 729.3V724.4h5.1V729.3ZM498.3 729.3V725.7h5.1V729.3ZM503.4 729.3V725.4h5.1V729.3ZM508.6 729.3V724.4h5.1V729.3ZM513.7 729.3V724.8h5.1V729.3ZM518.9 729.3V728.5h5.1V729.3ZM652.7 729.3V727.2h5.1V729.3ZM657.8 729.3V726.1h5.1V729.3ZM663 729.3V726.1h5.1V729.3ZM668.1 729.3V726.1h5.1V729.3ZM673.3 729.3V726.1h5.1V729.3ZM678.4 729.3V726.1h5.1V729.3ZM683.6 729.3V726.1h5.1V729.3ZM688.7 729.3V726.1h5.1V729.3ZM693.9 729.3V726.1h5.1V729.3ZM699 729.3V724.8h5.1V729.3ZM704.2 729.3V724h5.1V729.3ZM709.3 729.3V724.7h5.1V729.3ZM714.4 729.3V726.2h5.1V729.3ZM719.6 729.3V727.8h5.1V729.3ZM724.7 729.3V727.4h5.1V729.3ZM729.9 729.3V726.3h5.1V729.3ZM735 729.3V726.1h5.1V729.3ZM740.2 729.3V723.4h5.1V729.3ZM745.3 729.3V721.6h5.1V729.3ZM750.5 729.3V720.6h5.1V729.3ZM755.6 729.3V719.2h5.1V729.3ZM760.8 729.3V717.9h5.1V729.3ZM765.9 729.3V716.9h5.1V729.3ZM771.1 729.3V717.3h5.1V729.3ZM776.2 729.3V718.3h5.1V729.3ZM781.4 729.3V717.9h5.1V729.3ZM786.5 729.3V717.2h5.1V729.3ZM791.7 729.3V717h5.1V729.3ZM796.8 729.3V717.5h5.1V729.3ZM801.9 729.3V718.3h5.1V729.3ZM807.1 729.3V719.2h5.1V729.3ZM812.2 729.3V722.6h5.1V729.3ZM817.4 729.3V724.8h5.1V729.3ZM822.5 729.3V725.9h5.1V729.3ZM827.7 729.3V726.7h5.1V729.3ZM832.8 729.3V727.7h5.1V729.3ZM915.2 729.3V728.5h5.1V729.3ZM920.3 729.3V728.3h5.1V729.3ZM925.5 729.3V727.1h5.1V729.3ZM930.6 729.3V725.8h5.1V729.3ZM997.5 729.3V726.1h5.1V729.3ZM1002.7 729.3V724.6h5.1V729.3ZM1007.8 729.3V721.9h5.1V729.3ZM1013 729.3V721.4h5.1V729.3ZM1018.1 729.3V719.3h5.1V729.3ZM1023.3 729.3V716.8h5.1V729.3ZM1028.4 729.3V715.7h5.1V729.3ZM1033.6 729.3V716.2h5.1V729.3ZM1038.7 729.3V718.1h5.1V729.3ZM1043.9 729.3V719.2h5.1V729.3ZM1049 729.3V719.5h5.1V729.3ZM1054.2 729.3V720.6h5.1V729.3ZM1059.3 729.3V720.6h5.1V729.3ZM1064.4 729.3V720.6h5.1V729.3ZM1069.6 729.3V720.5h5.1V729.3ZM1074.7 729.3V719.6h5.1V729.3ZM1079.9 729.3V718.7h5.1V729.3ZM1085 729.3V719.3h5.1V729.3ZM1090.2 729.3V720.4h5.1V729.3Z" fill="#8c8c8c" stroke="#5e5e5e" stroke-width="0.9"/>
<path d="M39.7 697.6L49.2 707.1L60.6 716.6L75.8 723.3L83.4 723.8L92.9 729.9L100.5 732.8L110 744.2L119.5 756.5L129 767.9L138.5 775.5L148 780.3L159.4 784.6L172.7 786L186 789.2L197.4 789.8L212.6 789.2L224 788.4L235.4 786L246.8 783.1L253.5 781.6L266.4 778.9L277.8 775.5L289.2 772.7L296.8 768.9L304.4 767L313.9 766L323.4 767L334.8 768.3L346.2 769.8L357.6 771.3L369 771.3L380.4 768.3L388 767.9L395.6 765.6L407 759.4L418.4 750.8L429.8 743.2L441.2 736.2L452.6 729L464 721.4L475.4 715.3L484.9 711.3L493.5 709.4L502.6 708.4L510.2 706.5L519.7 706.5L527.3 708.4L534.9 712.2L544.4 715.3L553.9 720.4L561.5 727.1L571 732.8L580.5 738.1L590 742.8L597.6 746.1L609 749.3L620.4 752.7L631.8 753.3L639.4 755.6L645.1 756.9L652.7 755.2L662.2 754.6L673.6 753.1L685 751.8L696.4 750.2L705.9 747L713.5 745.7L723 745.1L733.5 744.3L744.5 741.3L754 737.1L765.4 730.9L776.8 724.6L788.2 718.5L799.6 712.4L809.1 708.1L818.6 705.2L830 704.3L841.4 704.3L853.8 706.7L864.2 712.4L875.6 720L887 727.1L896.5 730.9L906 733.7L915.5 734.7L925 734.1L934.5 733.3L944 735L951.6 739L959.2 743.8L966.8 749.9L974 755L982.6 758.4L988.3 759.9L994 759.4L1003.5 757.5L1013 753.3L1022.5 749.5L1030.1 744.2L1039.6 738.5L1045.3 736.6L1052.9 732.2L1060.5 729L1070 724.6L1077.6 721.4L1085.2 717.6L1090.9 715.7" stroke="#3030c0" stroke-width="1.4" fill="none" stroke-linejoin="round" stroke-linecap="round" />
<path d="M19.8 695.3L26.4 697.6L35.9 704.3L43.5 718.5L51.1 728L58.7 730.3L72 729.9L77.7 726.5L85.3 730.9L92.9 739.8L98.6 740.4L104.3 752.7L111.9 769.8L119.5 783.1L125.2 790.3L132.8 791.7L138.5 788.8L145.2 787.9L149.9 790.3L155.6 791.7L163.2 786L170.8 786L176.5 791.7L182.2 793.6L187.9 792.6L195.5 789.4L205 788.8L210.7 786.5L220.2 788.8L225.9 786.5L233.5 782.2L243 781.2L252.5 777.8L262.6 775.5L270.2 771.3L277.8 772.7L285.4 767L293 759.7L299.7 759.7L306.3 763.2L313.9 764.1L321.5 768.9L329.1 771.3L336.7 771.7L342.4 773L350 770.8L360.5 772.7L369 770.2L374.7 767L379.5 763.5L385.2 764.7L390.9 763.2L396.6 757.5L401.3 750.8L407 745.1L414.6 738.5L422.2 732.8L429.8 729.3L437.4 725.2L445 722.3L452.6 717.6L460.2 712.8L467.8 707.1L477.3 705.2L486.8 704.8L493.5 705.6L497.9 709L502.6 704.8L508.3 702.4L515 702.7L519.7 708.1L524.5 715.7L530.2 720L535.9 720.4L540.6 722.7L546.3 728L553.9 733.7L559.6 741.3L565.3 745.1L572.9 746.6L580.5 750.4L587.2 750.8L592.9 753.7L599.5 754L607.1 757.8L614.7 757.8L622.3 756.5L628 754.6L633.7 757.5L639.4 759.7L645.1 758.8L650.8 755.9L658.4 753.7L666 750.8L673.6 750.4L679.3 748.9L686.9 748.9L694.5 747L702.1 742.8L709.7 742.3L715.4 742.8L721.1 744.5L726.8 742.3L733.5 741.3L742.6 735.6L750.2 730.3L757.8 726.1L765.4 720.4L773 715.1L780.6 711.9L788.2 706.2L793.9 702.9L801.5 700.5L807.2 699.1L814.8 700.5L822.4 701.8L830 702.4L835.7 703.3L841.4 707.1L849 710.5L854.7 713.8L860.4 719.5L866.1 726.5L869.9 730.9L875.6 735L881.3 739L887 739L892.7 737.9L898.4 738.8L902.2 739.4L907.9 737.1L913.6 735L921.2 734.7L926.9 732.2L932.6 731.8L938.3 735L945.9 739.8L951.6 747L956.4 755.6L963 761.3L968.7 766L974 768.1L980.7 766L986.4 762.2L994 756.5L1003.5 752.3L1013 745.7L1020.6 739.8L1028.2 731.4L1033.9 727.1L1039.6 726.1L1045.3 725.5L1051 722.7L1058.6 720.4L1066.2 715.3L1073.8 711.9L1081.4 708.6L1090.9 706.7" stroke="#101010" stroke-width="2.15" fill="none" stroke-linejoin="round" stroke-linecap="round" />
<path d="M19.5 836.1H1213.5M19.5 898.3H1213.5" stroke="#2f6232" stroke-width="1.4" fill="none"/>
<path d="M19.5 867.2H1213.5" stroke="#2f6232" stroke-width="1.4" stroke-dasharray="21 5 5 5" fill="none"/>
<path d="M19.8 864.2L26.4 857.5L32.1 853.7L36.9 853.7L41.6 865.1L47.3 884.1L53 899.3L57.8 903.1L62.5 898.4L68.2 887L73.9 877.5L79.6 870.8L84.4 869.3L89.1 871.8L94.8 886L101.5 902.2L108.1 905L113.8 908.8L119.5 911.7L124.3 912.6L129 909.8L134.7 905L140.4 900.3L146.1 896.5L150.9 894.6L156.6 898.4L162.3 902.2L167 900.3L172.7 899.3L178.4 902.2L184.1 906.5L189.8 901.2L195.5 892.7L201.2 887.9L206.9 889.8L212.6 892.7L218.3 896.5L224 899.3L229.7 900.3L235.4 896.5L242.1 893.6L247.8 896.5L252.5 900.3L262.6 896.5L270.2 892.7L277.8 895.5L283.5 895.5L289.2 890.8L294.9 872.7L299.7 865.1L303.5 865.7L308.2 884.1L313.9 901.2L319.6 910.7L325.3 912.6L331 912L336.7 908.8L342.4 906L350 904.6L355.7 906L361.4 908.8L367.1 910.7L372.8 909.8L378.5 901.2L384.2 893.6L389.9 889.8L395.6 884.1L401.3 865.1L407 842.3L411.8 830L416.5 829L422.2 833.8L427.9 834.1L433.6 833.8L439.3 832.4L445 830.5L450.7 829L456.4 829L462.1 826.7L467.8 823.3L473.5 823.3L479.2 827.1L484.9 833.8L490.6 836.6L494 838.1L502.6 840.4L510.2 836.6L515.9 833.8L520.7 840.4L525.4 859.4L530.2 882.2L534.9 898.4L539.7 900.3L544.8 894.9L550.1 893.6L555.4 900.3L560.6 909.8L565.7 912.6L571 909.8L576.3 904.6L581.5 900.8L586.8 899.3L591.9 900.8L597.6 902.5L603.3 904.4L609 906.9L614.7 908.8L620.4 906.9L626.1 897.4L630.9 887L636.6 887.9L642.3 896.5L648 898.4L652.7 889.8L658 876.5L663.2 869.3L668.3 867.6L674 869.9L678.9 871.4L684.1 874L689.2 874L694.5 874.6L699.8 868.9L705 858.5L709.7 849.9L715.4 852.8L720.6 867L725.9 878.4L731.6 881.3L736 876.5L740.7 868.9L746.4 856.6L752.1 840.4L757.8 830.9L763.5 826.2L769.2 824.8L774.9 823.7L780.6 824.8L786.3 824.3L792 822.4L797.7 819.5L803.4 819.1L808.2 822.9L812.9 829L818.6 837.6L823.4 842.3L829.1 843.8L833.8 844.2L839.5 847.1L844.3 859.4L849 871.8L854.7 882.2L860.4 891.7L866.1 900.3L870.9 906.9L875.6 910.7L881.3 910.3L887 908.8L891.8 905L896.5 898.4L902.2 892.7L907.9 887.9L913.6 879.4L919.3 869.9L925 861.3L930.7 852.8L936.4 849L941.2 861.3L945.9 880.3L951.6 901.2L956.4 913.6L962.1 916.4L967.8 916.4L973.5 914.1L977.9 910.3L982.6 905L988.3 895.5L994 885.1L999.7 878.4L1005.4 873.7L1011.1 866.1L1016.8 851.8L1022.5 834.7L1028.2 826.2L1033.9 823.3L1039.6 825.2L1045.3 831.9L1051 834.7L1056.7 833.8L1062.4 830L1068.1 827.1L1073.8 824.3L1079.5 823.3L1085.2 821.8L1091.3 821.4" stroke="#e02020" stroke-width="1.3" fill="none" stroke-linejoin="round" stroke-linecap="round" />
<path d="M19.8 862.3L26.4 850.9L31.2 850.9L36.9 859.4L41.6 882.2L47.3 899.3L52.1 908.8L57.8 895.5L62.5 885.1L67.3 878.4L73 874.6L77.3 862.8L82.5 866.1L87.2 874.6L92 901.2L98 903.1L103 906L108.1 907.3L113.4 914.9L118.6 913.6L123.7 908.8L129 904.1L134.3 901.2L139.1 895.5L144.2 893L149.3 898.4L154.7 903.1L159.8 903.1L165.1 897.8L169.9 897.8L175.2 905L180.3 908.8L185.5 901.2L190.8 889.8L195.5 885.6L200.3 889.8L206 894.9L210.7 893.6L216 897.4L220.8 901.2L225.9 902.7L231.2 893.6L236.4 889.8L242.1 897.4L246.8 901.2L252.5 899.9L257.9 894.2L262.6 893.6L267.7 891.3L273.1 896.5L278.2 901.2L283.1 892.7L288.3 880.3L293.4 850.9L298.7 862.3L303.8 886L308.8 908.8L314.3 911.7L319.2 912L324.4 913.6L329.7 912L334.8 907.9L339.9 904.6L345.3 904.6L350 905.6L355.7 907.5L360.8 910.3L365.8 912L370.9 909.4L376 895.5L380.4 887.9L386.5 890.8L390.9 888.9L396.6 870.8L401.7 834.7L407 825.2L411.8 830L416.9 834.7L422.2 833.8L427 833.8L432.1 833.8L437.4 831.9L442.2 829L447.3 828.1L452.6 830.5L457.9 828.1L462.7 822.4L468.8 819.1L473.5 826.2L479.2 830.5L484 839.5L488.7 836.6L494 839.1L498.8 840.4L504.5 836.6L509.3 830.5L515 828.4L519.7 852.8L524.5 886L530.2 908.8L534.9 900.3L539.7 889.8L544.8 888.3L550.1 901.2L555.4 913.2L560.6 914.9L565.7 910.3L571 903.7L576.3 897.8L581.5 898.9L586.8 899.9L591.9 904.4L596.7 903.1L601.8 907.3L607.1 909.4L612.4 910.7L617.6 908.2L622.7 891.7L628 881.3L632.8 887L637.9 901.2L643.2 904.4L648.5 885.1L652.7 872.7L658 866.1L663.2 868L668.3 867.6L674 874.6L678.9 872.3L684.1 876.1L689.2 873.7L694.5 873.7L699.8 857.5L704 843.6L709.7 847.1L715.4 868.9L720.6 881.3L725.9 883.2L731.6 879.9L736 872.7L740.7 859.4L745.8 844.2L751.2 828.1L756.9 825.6L761.6 826.2L766.9 822.7L772.1 823.7L777.2 825.2L782.5 826.2L787.8 821.8L793 818L797.7 819.5L803 821.8L807.2 825.2L812 837.2L817.7 841L822.4 847.1L828.1 842.3L833.4 844.2L838.6 857.5L843.7 872.7L849 885.1L854.3 887.9L859.5 897.4L864.8 907.9L869.9 913.6L875.2 910.7L880 910.3L885.1 906L890.4 901.2L895.6 891.7L900.3 890.2L905.6 887L910.8 877.5L915.5 866.4L920.3 861.3L926 854.1L931.1 843.8L936.4 853.7L941.2 880.3L946.3 904.1L951.6 914.5L956.4 917.9L962.1 916.8L967.8 914.9L973.5 911.7L977.9 906.9L982.6 898.4L987.4 887.9L992.7 878.4L997.8 874.6L1003.1 874.6L1008.3 867L1013 851.8L1017.8 834.7L1022.5 826.2L1027.8 822.9L1033.5 822.9L1038.7 829L1044.4 835.3L1049.7 836.6L1054.8 834.1L1059.9 828.6L1065.3 826.7L1070 824.3L1075.3 822.7L1080.5 822.7L1085.8 819.5L1091.3 822.4" stroke="#101010" stroke-width="2.1" fill="none" stroke-linejoin="round" stroke-linecap="round" />
<ellipse cx="484.5" cy="92" rx="49.5" ry="17" fill="none" stroke="#e03838" stroke-width="1.35"/>
<ellipse cx="795.6" cy="87.4" rx="57.8" ry="15.2" fill="none" stroke="#e03838" stroke-width="1.35"/>
<ellipse cx="1091.2" cy="87.6" rx="48.7" ry="16.9" fill="none" stroke="#e03838" stroke-width="1.35"/>
<ellipse cx="465.5" cy="823.5" rx="60.9" ry="22.5" fill="none" stroke="#e03838" stroke-width="1.35"/>
<ellipse cx="793.7" cy="819.5" rx="49.4" ry="16.6" fill="none" stroke="#e03838" stroke-width="1.35"/>
<ellipse cx="1071.7" cy="825" rx="60.6" ry="17.5" fill="none" stroke="#e03838" stroke-width="1.35"/>
<path d="M429.3 358.2L1212.4 427.7" stroke="#e8202a" stroke-width="3" stroke-dasharray="7 4.8" fill="none"/>
<path d="M393.5 487L506 363.5" stroke="#2838ee" stroke-width="4.8" stroke-dasharray="4.4 3.4" fill="none"/>
<path d="M699.6 496L786 390.2" stroke="#2838ee" stroke-width="4.8" stroke-dasharray="4.4 3.4" fill="none"/>
<path d="M966.5 512L1055 422" stroke="#2838ee" stroke-width="4.8" stroke-dasharray="4.4 3.4" fill="none"/>
<path d="M868.4 372.7l-12.8 -13.4h6.4v-12h12.8v12h6.4z" fill="#46721f"/>
<path d="M1084.5 414.2l-12.8 -13.4h6.4v-12h12.8v12h6.4z" fill="#46721f"/>
<text x="1017.5" y="358" font-family="Liberation Sans, Arial, sans-serif" font-size="30" fill="#4a7a26" font-weight="bold" textLength="119.5" lengthAdjust="spacingAndGlyphs" >200 sma</text>
<text x="602" y="158.8" font-family="Liberation Sans, Arial, sans-serif" font-size="31" fill="#e01a26" font-weight="bold" textLength="63" lengthAdjust="spacingAndGlyphs" >USD</text>
<text x="18.4" y="22.2" font-family="DejaVu Sans Condensed, DejaVu Sans, Tahoma, sans-serif" font-size="19.4" fill="#000" font-weight="bold" textLength="49.5" lengthAdjust="spacingAndGlyphs" >$USD</text>
<text x="73" y="22.2" font-family="Liberation Sans, Arial, sans-serif" font-size="14.6" fill="#000" textLength="212.5" lengthAdjust="spacingAndGlyphs" >US Dollar - Cash Settle (EOD)</text>
<text x="292.5" y="22.2" font-family="DejaVu Sans, Verdana, sans-serif" font-size="11.5" fill="#000" textLength="25" lengthAdjust="spacingAndGlyphs" >ICE</text>
<text x="19.5" y="41.6" font-family="Liberation Sans, Arial, sans-serif" font-size="14" fill="#000" textLength="88.5" lengthAdjust="spacingAndGlyphs" >18-Aug-2023</text>
<text x="644.5" y="41.8" font-family="Liberation Sans, Arial, sans-serif" font-size="14.2" fill="#000" font-weight="bold" textLength="43" lengthAdjust="spacingAndGlyphs" >Open</text>
<text x="694" y="41.8" font-family="Liberation Sans, Arial, sans-serif" font-size="14.2" fill="#000" textLength="47.5" lengthAdjust="spacingAndGlyphs" >103.31</text>
<text x="751" y="41.8" font-family="Liberation Sans, Arial, sans-serif" font-size="14.2" fill="#000" font-weight="bold" textLength="35.5" lengthAdjust="spacingAndGlyphs" >High</text>
<text x="793" y="41.8" font-family="Liberation Sans, Arial, sans-serif" font-size="14.2" fill="#000" textLength="47" lengthAdjust="spacingAndGlyphs" >103.57</text>
<text x="850" y="41.8" font-family="Liberation Sans, Arial, sans-serif" font-size="14.2" fill="#000" font-weight="bold" textLength="35" lengthAdjust="spacingAndGlyphs" >Low</text>
<text x="891.5" y="41.8" font-family="Liberation Sans, Arial, sans-serif" font-size="14.2" fill="#000" textLength="47.5" lengthAdjust="spacingAndGlyphs" >103.13</text>
<text x="950" y="41.8" font-family="Liberation Sans, Arial, sans-serif" font-size="14.2" fill="#000" font-weight="bold" textLength="45.5" lengthAdjust="spacingAndGlyphs" >Close</text>
<text x="1003" y="41.8" font-family="Liberation Sans, Arial, sans-serif" font-size="14.2" fill="#000" textLength="47.5" lengthAdjust="spacingAndGlyphs" >103.28</text>
<text x="1060" y="41.8" font-family="Liberation Sans, Arial, sans-serif" font-size="14.2" fill="#000" font-weight="bold" textLength="33" lengthAdjust="spacingAndGlyphs" >Chg</text>
<text x="1098" y="41.8" font-family="Liberation Sans, Arial, sans-serif" font-size="14.2" fill="#000" textLength="100.5" lengthAdjust="spacingAndGlyphs" >-0.19 (-0.19%)</text>
<path d="M1202 34.8h10.4l-5.2 5.6z" fill="#8a1028"/>
<text x="1078.5" y="22" font-family="Liberation Sans, Arial, sans-serif" font-size="13" fill="#4a4a60" textLength="11" lengthAdjust="spacingAndGlyphs" >©</text>
<text x="1092.5" y="22" font-family="DejaVu Sans Condensed, DejaVu Sans, Tahoma, sans-serif" font-size="14" fill="#4a4a66" textLength="120" lengthAdjust="spacingAndGlyphs" >StockCharts.com</text>
<path d="M22 61.5L22 60L26 53L27.5 55L30 50L33 56.5L35 54.5L36 56V61.5Z" fill="#101030"/><path d="M22 60L26 53L27.5 55L30 50L33 56.5L35 54.5L36 56" stroke="#2a2ad0" stroke-width="1" fill="none"/>
<text x="41" y="61" font-family="DejaVu Sans, Verdana, sans-serif" font-size="13.2" fill="#000" textLength="119" lengthAdjust="spacingAndGlyphs" >RSI(14) 64.73</text>
<path d="M24.3 176.5v8M22.5 178.5h1.8M24.3 182.5h1.8M29.5 178v10M27.7 180h1.8M29.5 186h1.8M34.5 177v8.5M32.7 182.5h1.8M34.5 179h1.8" stroke="#2e6a1c" stroke-width="1.3" fill="none"/>
<text x="41.5" y="187.3" font-family="DejaVu Sans, Verdana, sans-serif" font-size="13.2" fill="#000" textLength="168.5" lengthAdjust="spacingAndGlyphs" >$USD (Daily) 103.28</text>
<path d="M22.5 198h13" stroke="#2424a0" stroke-width="2.6"/>
<text x="38" y="203.6" font-family="DejaVu Sans Condensed, DejaVu Sans, Tahoma, sans-serif" font-size="13.4" fill="#2424a0" textLength="95.5" lengthAdjust="spacingAndGlyphs" >MA(10) 102.78</text>
<path d="M22.5 214h13" stroke="#c01840" stroke-width="2.6"/>
<text x="38" y="219.6" font-family="DejaVu Sans Condensed, DejaVu Sans, Tahoma, sans-serif" font-size="13.4" fill="#c01840" textLength="95.5" lengthAdjust="spacingAndGlyphs" >MA(34) 101.68</text>
<path d="M22.5 230.5h13" stroke="#2e5e1c" stroke-width="2.6"/>
<text x="38" y="236.1" font-family="DejaVu Sans Condensed, DejaVu Sans, Tahoma, sans-serif" font-size="13.4" fill="#2e5e1c" textLength="103.5" lengthAdjust="spacingAndGlyphs" >MA(200) 103.30</text>
<path d="M23 567.5v-7.5h3.4v-4.5h3.6v3h3v1.5h3v7.5z" fill="#2e6a1c"/><path d="M26.4 567.5v-7.5M30 567.5v-9M33 567.5v-7.5" stroke="#5c9a48" stroke-width="0.7"/>
<text x="41.5" y="567.5" font-family="DejaVu Sans, Verdana, sans-serif" font-size="13.2" fill="#000" textLength="115.5" lengthAdjust="spacingAndGlyphs" >Volume undef</text>
<path d="M22.5 688.3h13" stroke="#000" stroke-width="2.6"/>
<text x="41.5" y="694" font-family="DejaVu Sans, Verdana, sans-serif" font-size="13.2" fill="#000" textLength="179.5" lengthAdjust="spacingAndGlyphs" >MACD(12,26,9) 0.468</text>
<text x="222" y="694" font-family="DejaVu Sans, Verdana, sans-serif" font-size="13.2" fill="#3030c8" textLength="58.5" lengthAdjust="spacingAndGlyphs" >, 0.293</text>
<text x="282" y="694" font-family="DejaVu Sans, Verdana, sans-serif" font-size="13.2" fill="#8a8a8a" textLength="58.5" lengthAdjust="spacingAndGlyphs" >, 0.175</text>
<path d="M22.5 814.3h13" stroke="#000" stroke-width="2.6"/>
<text x="41.5" y="819.5" font-family="DejaVu Sans, Verdana, sans-serif" font-size="13.2" fill="#000" textLength="272.5" lengthAdjust="spacingAndGlyphs" >Full STO %K(14,3) %D(3) 93.39,</text>
<text x="321.5" y="819.5" font-family="DejaVu Sans, Verdana, sans-serif" font-size="13.2" fill="#e02020" textLength="46.5" lengthAdjust="spacingAndGlyphs" >94.11</text>
<text x="67.2" y="944.2" font-family="DejaVu Sans, Verdana, sans-serif" font-size="13.5" fill="#000" text-anchor="middle" textLength="27" lengthAdjust="spacingAndGlyphs" >Nov</text>
<text x="175.3" y="546.6" font-family="DejaVu Sans, Verdana, sans-serif" font-size="13.5" fill="#000" text-anchor="middle" textLength="26.5" lengthAdjust="spacingAndGlyphs" >Dec</text>
<text x="175.3" y="944.2" font-family="DejaVu Sans, Verdana, sans-serif" font-size="13.5" fill="#000" text-anchor="middle" textLength="26.5" lengthAdjust="spacingAndGlyphs" >Dec</text>
<text x="282.4" y="546.6" font-family="DejaVu Sans Condensed, DejaVu Sans, Tahoma, sans-serif" font-size="15.6" fill="#000" font-weight="bold" text-anchor="middle" textLength="35.5" lengthAdjust="spacingAndGlyphs" >2023</text>
<text x="282.4" y="944.2" font-family="DejaVu Sans Condensed, DejaVu Sans, Tahoma, sans-serif" font-size="15.6" fill="#000" font-weight="bold" text-anchor="middle" textLength="35.5" lengthAdjust="spacingAndGlyphs" >2023</text>
<text x="386.3" y="546.6" font-family="DejaVu Sans, Verdana, sans-serif" font-size="13.5" fill="#000" text-anchor="middle" textLength="25" lengthAdjust="spacingAndGlyphs" >Feb</text>
<text x="386.3" y="944.2" font-family="DejaVu Sans, Verdana, sans-serif" font-size="13.5" fill="#000" text-anchor="middle" textLength="25" lengthAdjust="spacingAndGlyphs" >Feb</text>
<text x="484.1" y="546.6" font-family="DejaVu Sans, Verdana, sans-serif" font-size="13.5" fill="#000" text-anchor="middle" textLength="27" lengthAdjust="spacingAndGlyphs" >Mar</text>
<text x="484.1" y="944.2" font-family="DejaVu Sans, Verdana, sans-serif" font-size="13.5" fill="#000" text-anchor="middle" textLength="27" lengthAdjust="spacingAndGlyphs" >Mar</text>
<text x="602.5" y="546.6" font-family="DejaVu Sans, Verdana, sans-serif" font-size="13.5" fill="#000" text-anchor="middle" textLength="25" lengthAdjust="spacingAndGlyphs" >Apr</text>
<text x="602.5" y="944.2" font-family="DejaVu Sans, Verdana, sans-serif" font-size="13.5" fill="#000" text-anchor="middle" textLength="25" lengthAdjust="spacingAndGlyphs" >Apr</text>
<text x="700.3" y="546.6" font-family="DejaVu Sans, Verdana, sans-serif" font-size="13.5" fill="#000" text-anchor="middle" textLength="29.5" lengthAdjust="spacingAndGlyphs" >May</text>
<text x="700.3" y="944.2" font-family="DejaVu Sans, Verdana, sans-serif" font-size="13.5" fill="#000" text-anchor="middle" textLength="29.5" lengthAdjust="spacingAndGlyphs" >May</text>
<text x="813.5" y="546.6" font-family="DejaVu Sans, Verdana, sans-serif" font-size="13.5" fill="#000" text-anchor="middle" textLength="25" lengthAdjust="spacingAndGlyphs" >Jun</text>
<text x="813.5" y="944.2" font-family="DejaVu Sans, Verdana, sans-serif" font-size="13.5" fill="#000" text-anchor="middle" textLength="25" lengthAdjust="spacingAndGlyphs" >Jun</text>
<text x="921.6" y="546.6" font-family="DejaVu Sans, Verdana, sans-serif" font-size="13.5" fill="#000" text-anchor="middle" textLength="21" lengthAdjust="spacingAndGlyphs" >Jul</text>
<text x="921.6" y="944.2" font-family="DejaVu Sans, Verdana, sans-serif" font-size="13.5" fill="#000" text-anchor="middle" textLength="21" lengthAdjust="spacingAndGlyphs" >Jul</text>
<text x="1024.5" y="546.6" font-family="DejaVu Sans, Verdana, sans-serif" font-size="13.5" fill="#000" text-anchor="middle" textLength="27.5" lengthAdjust="spacingAndGlyphs" >Aug</text>
<text x="1024.5" y="944.2" font-family="DejaVu Sans, Verdana, sans-serif" font-size="13.5" fill="#000" text-anchor="middle" textLength="27.5" lengthAdjust="spacingAndGlyphs" >Aug</text>
<text x="1142.9" y="546.6" font-family="DejaVu Sans, Verdana, sans-serif" font-size="13.5" fill="#000" text-anchor="middle" textLength="25.5" lengthAdjust="spacingAndGlyphs" >Sep</text>
<text x="1142.9" y="944.2" font-family="DejaVu Sans, Verdana, sans-serif" font-size="13.5" fill="#000" text-anchor="middle" textLength="25.5" lengthAdjust="spacingAndGlyphs" >Sep</text>
<rect x="17.5" y="532" width="119" height="20.6" fill="#c9c9c9"/>
<text x="23.8" y="548.2" font-family="Liberation Sans, Arial, sans-serif" font-size="13.6" fill="#333" textLength="109" lengthAdjust="spacingAndGlyphs" >11 Sep Y:101.96</text>
<text x="1217.5" y="91.5" font-family="Liberation Sans, Arial, sans-serif" font-size="14" fill="#000" textLength="16.8" lengthAdjust="spacingAndGlyphs" >70</text>
<path d="M1209.4 92.2L1214.8 84H1259.8V100.3H1214.8Z" fill="#fff" stroke="#3a3acc" stroke-width="1.6" stroke-linejoin="miter"/>
<text x="1216.2" y="97.7" font-family="Liberation Sans, Arial, sans-serif" font-size="14" fill="#000" textLength="39.8" lengthAdjust="spacingAndGlyphs" >64.73</text>
<path d="M1209.4 462.3L1214.8 454.8H1275V470H1214.8Z" fill="#fff" stroke="#c8284e" stroke-width="1.7" stroke-linejoin="miter"/>
<text x="1217.4" y="467.3" font-family="Liberation Sans, Arial, sans-serif" font-size="14" fill="#000" textLength="48" lengthAdjust="spacingAndGlyphs" >101.68</text>
<path d="M1209.4 437L1214.8 429H1275V444.3H1214.8Z" fill="#fff" stroke="#2a2ab0" stroke-width="1.7" stroke-linejoin="miter"/>
<text x="1217.4" y="441.3" font-family="Liberation Sans, Arial, sans-serif" font-size="14" fill="#000" textLength="48" lengthAdjust="spacingAndGlyphs" >102.78</text>
<path d="M1211 425L1214.8 417.2H1275V433H1214.8Z" fill="#fff" stroke="#245a1a" stroke-width="1.9" stroke-linejoin="miter"/>
<text x="1217.4" y="430" font-family="Liberation Sans, Arial, sans-serif" font-size="14" fill="#000" textLength="48" lengthAdjust="spacingAndGlyphs" >103.30</text>
<path d="M1211.6 426.4L1215.8 418.2H1275V434.6H1215.8Z" fill="#fff" stroke="#111" stroke-width="2.2" stroke-linejoin="miter"/>
<text x="1216.2" y="432.6" font-family="Liberation Sans, Arial, sans-serif" font-size="15.5" fill="#000" font-weight="bold" textLength="53" lengthAdjust="spacingAndGlyphs" >103.28</text>
<path d="M1209.4 719L1214.8 711.5H1259.8V726.2H1214.8Z" fill="#fff" stroke="#c4c4c4" stroke-width="1.5" stroke-linejoin="miter"/>
<text x="1216.6" y="723.6" font-family="Liberation Sans, Arial, sans-serif" font-size="14" fill="#000" textLength="39.5" lengthAdjust="spacingAndGlyphs" >0.175</text>
<path d="M1209.4 714L1214.8 706.5H1259.8V721.4H1214.8Z" fill="#fff" stroke="#3a3acc" stroke-width="1.5" stroke-linejoin="miter"/>
<text x="1216.6" y="718.8" font-family="Liberation Sans, Arial, sans-serif" font-size="14" fill="#000" textLength="39.5" lengthAdjust="spacingAndGlyphs" >0.293</text>
<path d="M1209.4 705.2L1214.8 697.3H1259.8V712.2H1214.8Z" fill="#fff" stroke="#111" stroke-width="1.7" stroke-linejoin="miter"/>
<text x="1216.6" y="709.8" font-family="Liberation Sans, Arial, sans-serif" font-size="14" fill="#000" textLength="39.5" lengthAdjust="spacingAndGlyphs" >0.468</text>
<path d="M1209.4 821.3L1214.8 813.8H1259.8V829H1214.8Z" fill="#fff" stroke="#e03030" stroke-width="1.5" stroke-linejoin="miter"/>
<text x="1216.6" y="826" font-family="Liberation Sans, Arial, sans-serif" font-size="14" fill="#000" textLength="39.5" lengthAdjust="spacingAndGlyphs" >94.11</text>
<path d="M1209.4 820.4L1214.8 813H1259.8V828.3H1214.8Z" fill="#fff" stroke="#111" stroke-width="1.7" stroke-linejoin="miter"/>
<text x="1216.6" y="825.6" font-family="Liberation Sans, Arial, sans-serif" font-size="14" fill="#000" textLength="39.5" lengthAdjust="spacingAndGlyphs" >93.39</text>
<circle cx="1265" cy="5" r="18.6" fill="#9a9a9a" opacity="0.5"/><circle cx="1265" cy="5" r="17.2" fill="#4a4a4a"/><circle cx="1265" cy="5" r="14.5" fill="none" stroke="#d8d8d8" stroke-width="1.5"/><circle cx="1265" cy="5" r="13.4" fill="#333"/>
<path d="M1258.6 -2L1268 13M1257.6 15.2L1268 -1" stroke="#f2f2f2" stroke-width="2.4" fill="none"/>
</svg>
</body></html>
